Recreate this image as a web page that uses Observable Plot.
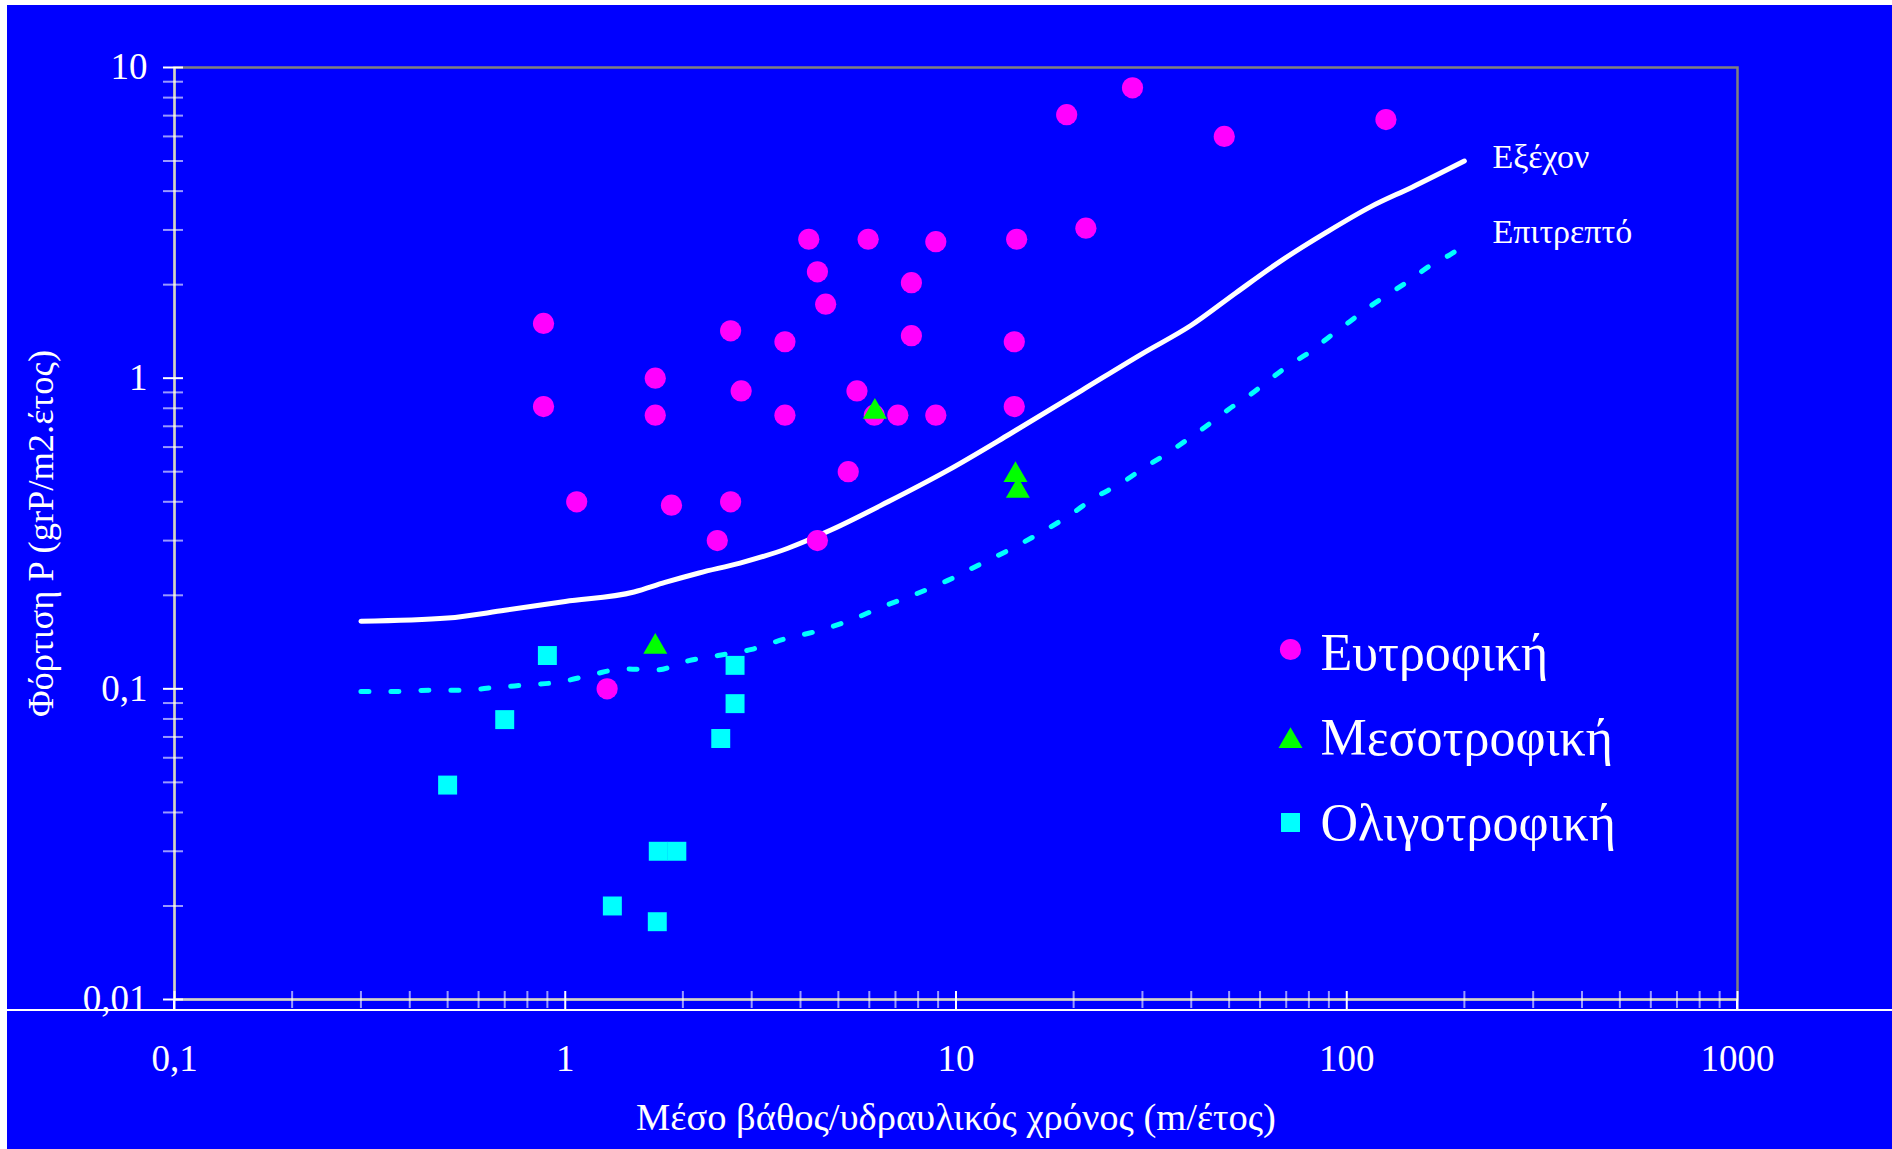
<!DOCTYPE html>
<html>
<head>
<meta charset="utf-8">
<script src="https://cdn.jsdelivr.net/npm/d3@7"></script>
<script src="https://cdn.jsdelivr.net/npm/@observablehq/plot@0.6"></script>
<style>
  html, body { margin: 0; padding: 0; background: #ffffff; width: 1892px; height: 1149px; overflow: hidden; }
  #chart { position: absolute; left: 7px; top: 5px; width: 1885px; height: 1144px; background: #0000ff; }
  #chart svg { display: block; }
</style>
</head>
<body>
<div id="chart"></div>
<script>
// ---------------- data ----------------
const xTickValues = [0.1, 1, 10, 100, 1000];
const xTickLabels = ["0,1", "1", "10", "100", "1000"];
const yTickValues = [0.01, 0.1, 1, 10];
const yTickLabels = ["0,01", "0,1", "1", "10"];
const minorMultipliers = [2, 3, 4, 5, 6, 7, 8, 9];

const xTitle = "Μέσο βάθος/υδραυλικός χρόνος (m/έτος)";
const yTitle = "Φόρτιση P (grP/m2.έτος)";

const categories = ["Ευτροφική", "Μεσοτροφική", "Ολιγοτροφική"];

// Eutrophic (magenta circles)
const eutrophicX = [0.88, 0.88, 1.07, 1.7, 1.7, 1.87, 1.28, 2.45, 2.65, 2.82, 2.65, 3.65, 3.65, 4.2, 4.42, 4.64, 4.42, 5.3, 5.58, 5.96, 6.18, 7.1, 8.88, 7.69, 7.69, 8.88, 14.1, 14.1, 14.3, 19.2, 21.5, 28.3, 48.6, 126];
const eutrophicY = [1.5, 0.81, 0.40, 1.0, 0.76, 0.39, 0.1, 0.30, 1.42, 0.91, 0.40, 1.31, 0.76, 2.8, 2.2, 1.73, 0.30, 0.50, 0.91, 2.8, 0.76, 0.76, 0.76, 2.03, 1.37, 2.75, 0.81, 1.31, 2.8, 7.05, 3.04, 8.6, 6.0, 6.8];

// Mesotrophic (green triangles)
const mesotrophicX = [1.7, 6.2, 14.2, 14.4];
const mesotrophicY = [0.14, 0.80, 0.50, 0.445];

// Oligotrophic (cyan squares)
const oligotrophicX = [0.5, 0.7, 0.9, 1.32, 1.72, 1.73, 1.93, 2.5, 2.72, 2.72];
const oligotrophicY = [0.049, 0.0796, 0.128, 0.020, 0.0178, 0.030, 0.030, 0.0692, 0.0896, 0.119];

// Excessive loading line (Εξέχον)
const excessiveLabel = "Εξέχον";
const excessiveX = [0.3, 0.5, 0.7, 1.0, 1.5, 1.8, 2.2, 2.8, 3.7, 4.8, 6.7, 9.5, 13.7, 21, 30, 40, 52, 67, 88, 115, 147, 200];
const excessiveY = [0.165, 0.169, 0.179, 0.191, 0.205, 0.220, 0.236, 0.254, 0.283, 0.325, 0.400, 0.504, 0.66, 0.914, 1.20, 1.48, 1.88, 2.36, 2.93, 3.56, 4.12, 5.0];

// Permissible loading line (Επιτρεπτό)
const permissibleLabel = "Επιτρεπτό";
const permissibleX = [0.3, 0.37, 0.45, 0.55, 0.66, 0.8, 0.96, 1.17, 1.41, 1.71, 2.06, 2.46, 3.0, 3.66, 4.38, 5.35, 6.43, 7.82, 9.5, 11.4, 13.9, 16.6, 19.4, 22.7, 26.3, 30.4, 34.5, 39, 44.5, 50, 56.3, 62.9, 71, 80.2, 90.3, 101.7, 114.5, 128.5, 146, 164, 184, 200];
const permissibleY = [0.098, 0.098, 0.099, 0.099, 0.101, 0.103, 0.105, 0.111, 0.116, 0.115, 0.123, 0.128, 0.134, 0.145, 0.153, 0.166, 0.183, 0.201, 0.223, 0.25, 0.283, 0.32, 0.36, 0.413, 0.457, 0.516, 0.57, 0.633, 0.713, 0.796, 0.88, 0.98, 1.1, 1.21, 1.36, 1.52, 1.70, 1.87, 2.08, 2.31, 2.5, 2.68];

// ---------------- build tables ----------------
const zip = (xs, ys) => xs.map((x, i) => ({x, y: ys[i]}));
const eutrophic = zip(eutrophicX, eutrophicY);
const mesotrophic = zip(mesotrophicX, mesotrophicY);
const oligotrophic = zip(oligotrophicX, oligotrophicY);
const excessive = zip(excessiveX, excessiveY);
const permissible = zip(permissibleX, permissibleY);

const decadesX = [0.1, 1, 10, 100];
const decadesY = [0.01, 0.1, 1];
const xMinor = decadesX.flatMap(d => minorMultipliers.map(m => +(d * m).toPrecision(6)));
const yMinor = decadesY.flatMap(d => minorMultipliers.map(m => +(d * m).toPrecision(6)));
const xLabelMap = new Map(xTickValues.map((v, i) => [v, xTickLabels[i]]));
const yLabelMap = new Map(yTickValues.map((v, i) => [v, yTickLabels[i]]));

const COLORS = {eu: "#ff00ff", meso: "#00ff00", oligo: "#00ffff"};
const FONT = "'Liberation Serif', 'Times New Roman', serif";

const W = 1885, H = 1144;
const ML = 167, MR = 155, MT = 62, MB = 150;

const legendSpec = [
  {label: categories[0], symbol: "circle", fill: COLORS.eu, r: 10.6, mdy: 582, tdy: 566},
  {label: categories[1], symbol: "triangle", fill: COLORS.meso, r: 8.9, mdy: 673.5, tdy: 651},
  {label: categories[2], symbol: "square", fill: COLORS.oligo, r: 10.7, mdy: 755, tdy: 736}
];

const legendMarks = legendSpec.flatMap(s => [
  Plot.dot([s], {frameAnchor: "top-left", dx: 1116, dy: s.mdy, symbol: () => s.symbol, r: s.r, fill: s.fill, stroke: "none"}),
  Plot.text([s], {frameAnchor: "top-left", dx: 1146, dy: s.tdy, text: d => d.label, textAnchor: "start", fill: "white", fontSize: 52})
]);

const plot = Plot.plot({
  width: W,
  height: H,
  marginLeft: ML, marginRight: MR, marginTop: MT, marginBottom: MB,
  style: {background: "#0000ff", color: "white", fontFamily: FONT, fontSize: "37px", overflow: "visible"},
  x: {type: "log", domain: [0.1, 1000]},
  y: {type: "log", domain: [0.01, 10]},
  symbol: {type: "identity"},
  marks: [
    Plot.frame({stroke: "#808080", strokeWidth: 2.5}),
    Plot.ruleX([xTickValues[0]], {stroke: "#d0d0d0", strokeWidth: 2.5}),
    Plot.ruleY([yTickValues[0]], {stroke: "#d0d0d0", strokeWidth: 2.5}),
    // minor ticks
    Plot.axisX(xMinor, {anchor: "bottom", tickSize: 17, dy: -8, stroke: "white", strokeOpacity: 0.6, strokeWidth: 2, tickFormat: () => "", label: null}),
    Plot.axisY(yMinor, {anchor: "left", tickSize: 20, dx: 9, stroke: "white", strokeOpacity: 0.6, strokeWidth: 2, tickFormat: () => "", label: null}),
    // major ticks
    Plot.axisX(xTickValues, {anchor: "bottom", tickSize: 18, dy: -8, stroke: "white", strokeWidth: 2, tickFormat: () => "", label: null}),
    Plot.axisY(yTickValues, {anchor: "left", tickSize: 20, dx: 9, stroke: "white", strokeWidth: 2, tickFormat: () => "", label: null}),
    // tick labels
    Plot.axisX(xTickValues, {anchor: "bottom", tickSize: 0, tickPadding: 45, tickFormat: d => xLabelMap.get(d), fill: "white", fontSize: 37, label: null}),
    Plot.axisY(yTickValues, {anchor: "left", tickSize: 0, tickPadding: 27, tickFormat: d => yLabelMap.get(d), fill: "white", fontSize: 37, label: null}),
    // axis titles
    Plot.text([xTitle], {frameAnchor: "bottom", dy: 130, text: d => d, textAnchor: "middle", fill: "white", fontSize: 38.5}),
    Plot.text([yTitle], {frameAnchor: "left", dx: -133, rotate: -90, text: d => d, textAnchor: "middle", fill: "white", fontSize: 36.5}),
    // reference lines
    Plot.line(permissible, {x: "x", y: "y", curve: "monotone-x", stroke: COLORS.oligo, strokeWidth: 5, strokeDasharray: "8,22"}),
    Plot.line(excessive, {x: "x", y: "y", curve: "monotone-x", stroke: "white", strokeWidth: 5, strokeLinecap: "round", strokeLinejoin: "round"}),
    Plot.text(excessive.slice(-1), {x: "x", y: "y", text: () => excessiveLabel, dx: 28, dy: -4, textAnchor: "start", fill: "white", fontSize: 34}),
    Plot.text(permissible.slice(-1), {x: "x", y: "y", text: () => permissibleLabel, dx: 28, dy: -13, textAnchor: "start", fill: "white", fontSize: 34}),
    // points
    Plot.dot(eutrophic, {x: "x", y: "y", r: 10.6, fill: COLORS.eu, stroke: "none"}),
    Plot.dot(oligotrophic, {x: "x", y: "y", symbol: "square", r: 10.7, fill: COLORS.oligo, stroke: "none"}),
    Plot.dot(mesotrophic, {x: "x", y: "y", symbol: "triangle", r: 8.9, dy: 3.5, fill: COLORS.meso, stroke: "none"}),
    // legend
    ...legendMarks
  ]
});

document.getElementById("chart").appendChild(plot);

// decorative white baseline below the plot area
const svg = d3.select(plot);
const yb = H - MB + 11;
svg.append("line").attr("x1", 0).attr("x2", W).attr("y1", yb).attr("y2", yb).attr("stroke", "white").attr("stroke-width", 2);
[ML, W - MR].forEach(x => {
  svg.append("line").attr("x1", x).attr("x2", x).attr("y1", H - MB).attr("y2", yb).attr("stroke", "white").attr("stroke-width", 2);
});
</script>
</body>
</html>
